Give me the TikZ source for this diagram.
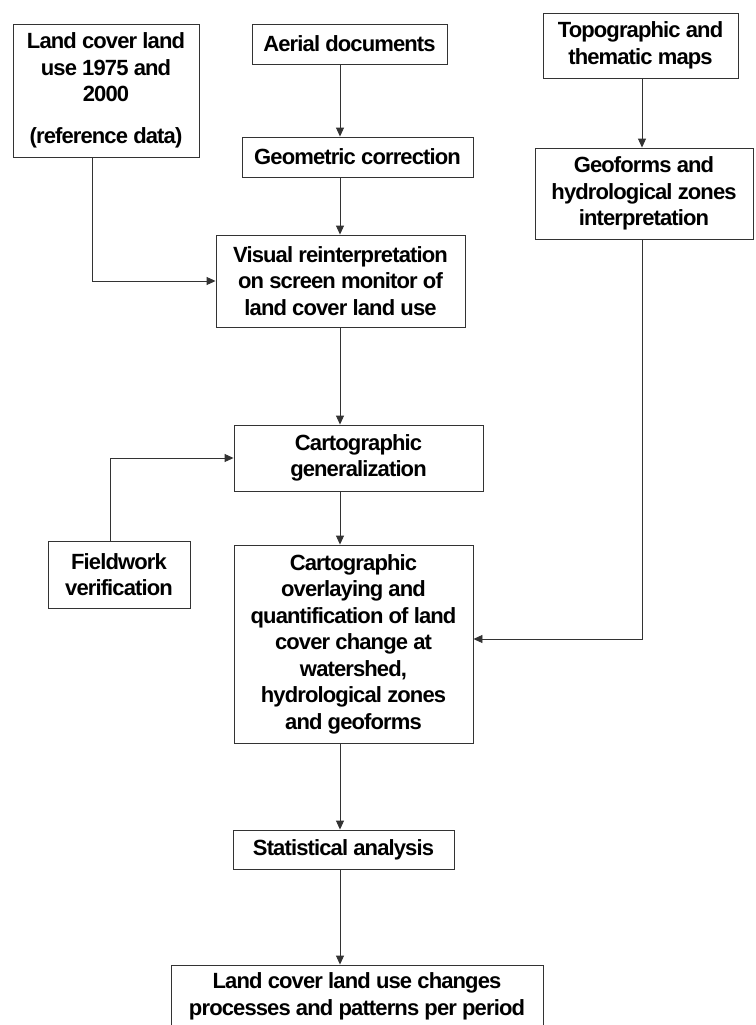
\documentclass[tikz,border=0pt]{standalone}
\usepackage{fontspec}
\setmainfont{Liberation Sans}[LetterSpace=-4]
\usetikzlibrary{arrows.meta, positioning}

\begin{document}
\begin{tikzpicture}[x=1pt, y=-1pt,
    box/.style={draw=black!80, line width=0.9pt, align=center, inner sep=0pt,
                font=\fontsize{22}{26.5}\selectfont\bfseries},
    arrow/.style={-{Triangle[length=9pt, width=8pt]}, draw=black!80, line width=0.9pt}]

    \useasboundingbox (0,0) rectangle (755,1025);
    \clip (0,0) rectangle (755,1025);

    % spines the vertical arrows run along
    \coordinate (midline) at (340,0);
    \coordinate (rightline) at (642,0);

    % Inputs at top
    \node[box, minimum width=186pt, minimum height=133pt] (landuse) at (106,90.5)
        {Land cover land\\use 1975 and\\2000\\[15pt](reference data)};
    \node[box, minimum width=195pt, minimum height=40pt] (aerial) at (349.5,44) {Aerial documents};
    \node[box, minimum width=195pt, minimum height=65pt] (topomaps) at (640.5,45.5)
        {Topographic and\\thematic maps};

    % Second row
    \node[box, minimum width=231pt, minimum height=40pt] (geocorr) at (357.5,157) {Geometric correction};
    \node[box, minimum width=218pt, minimum height=91pt] (geoforms) at (644,193.5)
        {Geoforms and\\hydrological zones\\interpretation};

    % Main column
    \node[box, minimum width=249pt, minimum height=92pt] (visual) at (340.5,281)
        {Visual reinterpretation\\on screen monitor of\\land cover land use};
    \node[box, minimum width=249pt, minimum height=66pt] (cartgen) at (358.5,458)
        {Cartographic\\generalization};
    \node[box, minimum width=142pt, minimum height=67pt] (fieldwork) at (119,574.5)
        {Fieldwork\\verification};
    \node[box, minimum width=239pt, minimum height=198pt] (overlay) at (353.5,644)
        {Cartographic\\overlaying and\\quantification of land\\cover change at\\watershed,\\hydrological zones\\and geoforms};
    \node[box, minimum width=221pt, minimum height=39pt] (stats) at (343.5,849.5) {Statistical analysis};
    \node[box, minimum width=372pt, minimum height=63pt] (changes) at (357,996.5)
        {Land cover land use changes\\processes and patterns per period};

    % Connectors
    \draw[arrow] (aerial.south -| midline) -- (geocorr.north -| midline);
    \draw[arrow] (geocorr.south -| midline) -- (visual.north -| midline);
    \draw[arrow] ([xshift=-14pt]landuse.south) |- (visual.west);
    \draw[arrow] (topomaps.south -| rightline) -- (geoforms.north -| rightline);
    \draw[arrow] (visual.south -| midline) -- (cartgen.north -| midline);
    \draw[arrow] ([xshift=-9pt]fieldwork.north) |- (cartgen.west);
    \draw[arrow] (cartgen.south -| midline) -- (overlay.north -| midline);
    \draw[arrow] (geoforms.south -| rightline) |- ([yshift=5pt]overlay.east);
    \draw[arrow] (overlay.south -| midline) -- (stats.north -| midline);
    \draw[arrow] (stats.south -| midline) -- (changes.north -| midline);
\end{tikzpicture}
\end{document}
